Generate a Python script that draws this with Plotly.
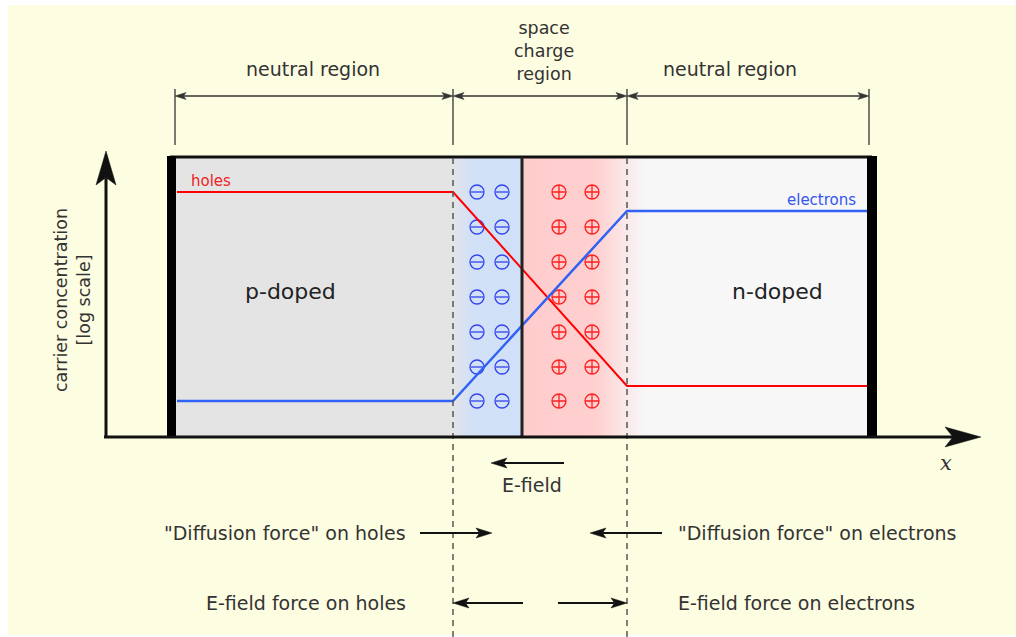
import plotly.graph_objects as go
import math

# region boundaries along x (diagram units = px of the original drawing)
box_left, box_right = 170, 872
p_edge, junction, n_edge = 453, 522, 627
bracket_ticks = [175, 453, 627, 869]
bracket_labels = ["neutral region", "space<br>charge<br>region", "neutral region"]

# carrier concentration profiles (log scale, drawn downward in px)
holes_x = [177, 453, 627, 869]
holes_y = [192, 192, 386, 386]
electrons_x = [177, 453, 627, 869]
electrons_y = [401, 401, 211, 211]

# fixed ion charges in the space charge region
ion_rows = [192, 227, 262, 297, 332, 367, 401]
neg_cols = [477, 502]
pos_cols = [559, 592]

font = "DejaVu Sans"
txt = "#333333"

fig = go.Figure()

# gradient fills of the depletion zone
fig.add_trace(go.Scatter(x=[p_edge, junction, junction, p_edge, p_edge], y=[157, 157, 437, 437, 157],
                         mode="lines", line_width=0, fill="toself", hoverinfo="skip",
                         fillgradient=dict(type="horizontal",
                                           colorscale=[[0, "#e4e4e6"], [0.25, "#d2e1f7"], [1, "#cfe0f8"]])))
fig.add_trace(go.Scatter(x=[junction, 645, 645, junction, junction], y=[157, 157, 437, 437, 157],
                         mode="lines", line_width=0, fill="toself", hoverinfo="skip",
                         fillgradient=dict(type="horizontal",
                                           colorscale=[[0, "#ffcccc"], [0.6, "#ffd0d0"], [1, "#f7f7f8"]])))

# ions
nx, ny = [], []
for c in neg_cols:
    for r in ion_rows:
        nx.append(c); ny.append(r)
fig.add_trace(go.Scatter(x=nx, y=ny, mode="markers", hoverinfo="skip",
                         marker=dict(symbol="circle-open", size=14, color="#3344ee", line=dict(width=1.3, color="#3344ee"))))
fig.add_trace(go.Scatter(x=nx, y=ny, mode="markers", hoverinfo="skip",
                         marker=dict(symbol="line-ew", size=9, color="#3344ee", line=dict(width=1.3, color="#3344ee"))))
px_, py_ = [], []
for c in pos_cols:
    for r in ion_rows:
        px_.append(c); py_.append(r)
fig.add_trace(go.Scatter(x=px_, y=py_, mode="markers", hoverinfo="skip",
                         marker=dict(symbol="circle-cross-open", size=14, color="#ff2020", line=dict(width=1.3, color="#ff2020"))))

# carrier curves
fig.add_trace(go.Scatter(x=holes_x, y=holes_y, mode="lines", line=dict(color="#ff0000", width=2)))
fig.add_trace(go.Scatter(x=electrons_x, y=electrons_y, mode="lines", line=dict(color="#3063f5", width=2.5)))

shapes = [
    dict(type="rect", x0=8, x1=1016, y0=5, y1=635, fillcolor="#fdfde2", line_width=0, layer="below"),
    dict(type="rect", x0=box_left, x1=p_edge, y0=157, y1=437, fillcolor="#e4e4e4", line_width=0, layer="below"),
    dict(type="rect", x0=n_edge, x1=box_right, y0=157, y1=437, fillcolor="#f7f7f8", line_width=0, layer="below"),
    dict(type="line", x0=box_left, x1=box_right, y0=157, y1=157, line=dict(color="#111", width=3)),
    dict(type="rect", x0=167, x1=176, y0=156, y1=437, fillcolor="#000", line_width=0),
    dict(type="rect", x0=867, x1=877, y0=156, y1=437, fillcolor="#000", line_width=0),
    dict(type="line", x0=junction, x1=junction, y0=157, y1=437, line=dict(color="#222", width=3)),
]
for xd in [p_edge, n_edge]:
    shapes.append(dict(type="line", x0=xd, x1=xd, y0=158, y1=637,
                       line=dict(color="#555555", width=1.5, dash="6px,5px")))
for xt in bracket_ticks:
    shapes.append(dict(type="line", x0=xt, x1=xt, y0=89, y1=145, line=dict(color="#333", width=1.3)))


def head(xt, yt, dx, dy, L, H, color):
    # stealth-style arrowhead with tip at (xt, yt) pointing along (dx, dy)
    bx, by = xt - L * dx, yt - L * dy
    mx, my = xt - 0.78 * L * dx, yt - 0.78 * L * dy
    nx_, ny_ = -dy, dx
    p = "M{},{} L{},{} L{},{} L{},{} Z".format(xt, yt, bx + H * nx_, by + H * ny_, mx, my, bx - H * nx_, by - H * ny_)
    shapes.append(dict(type="path", path=p, fillcolor=color, line=dict(color=color, width=0.5)))
    return mx, my


def arrow(x0, y0, x1, y1, w=2, L=16, H=5, both=False, color="#111"):
    d = math.hypot(x1 - x0, y1 - y0)
    dx, dy = (x1 - x0) / d, (y1 - y0) / d
    ex, ey = head(x1, y1, dx, dy, L, H, color)
    sx, sy = x0, y0
    if both:
        sx, sy = head(x0, y0, -dx, -dy, L, H, color)
    shapes.append(dict(type="line", x0=sx, y0=sy, x1=ex, y1=ey, line=dict(color=color, width=w)))


ann = []
def label(x, y, s, size=19, anchor="center", color=txt, fam=font, angle=0):
    ann.append(dict(x=x, y=y, xref="x", yref="y", text=s, showarrow=False, xanchor=anchor,
                    yanchor="middle", textangle=angle, font=dict(family=fam, size=size, color=color)))

# axes
arrow(106, 438, 106, 151, w=3, L=34, H=10)
arrow(104, 437, 981, 437, w=3, L=36, H=10)
label(946, 463, "<i>x</i>", size=21, fam="DejaVu Serif")
label(72, 300, "carrier concentration<br>[log scale]", size=17.5, angle=-90)

# brackets
for i in range(3):
    arrow(bracket_ticks[i], 96, bracket_ticks[i + 1], 96, w=1.3, L=11, H=3.5, both=True, color="#333")
label(313, 69, bracket_labels[0])
label(544, 51, bracket_labels[1], size=17.5)
label(730, 69, bracket_labels[2])

label(290, 291, "p-doped", size=22, color="#222")
label(777, 291, "n-doped", size=22, color="#222")
label(189, 181, "holes", size=15, anchor="left", color="#ee2222")
label(858, 200, "electrons", size=15, anchor="right", color="#3355ee")

# forces
arrow(564, 463, 491, 463)
label(532, 485, "E-field")
label(408, 533, "\"Diffusion force\" on holes", anchor="right")
arrow(420, 533, 492, 533)
label(676, 533, "\"Diffusion force\" on electrons", anchor="left")
arrow(662, 533, 590, 533)
label(408, 603, "E-field force on holes", anchor="right")
arrow(523, 603, 453, 603)
label(676, 603, "E-field force on electrons", anchor="left")
arrow(558, 603, 627, 603)

fig.update_layout(shapes=shapes, annotations=ann)

fig.update_layout(
    width=1016, height=637,
    margin=dict(l=0, r=0, t=0, b=0),
    paper_bgcolor="white", plot_bgcolor="white",
    showlegend=False,
    xaxis=dict(range=[0, 1016], visible=False, fixedrange=True),
    yaxis=dict(range=[637, 0], visible=False, fixedrange=True),
)

fig.write_html("out.html", config={"displayModeBar": False},
               post_script="document.body.style.margin='0';document.body.style.overflow='hidden';")
